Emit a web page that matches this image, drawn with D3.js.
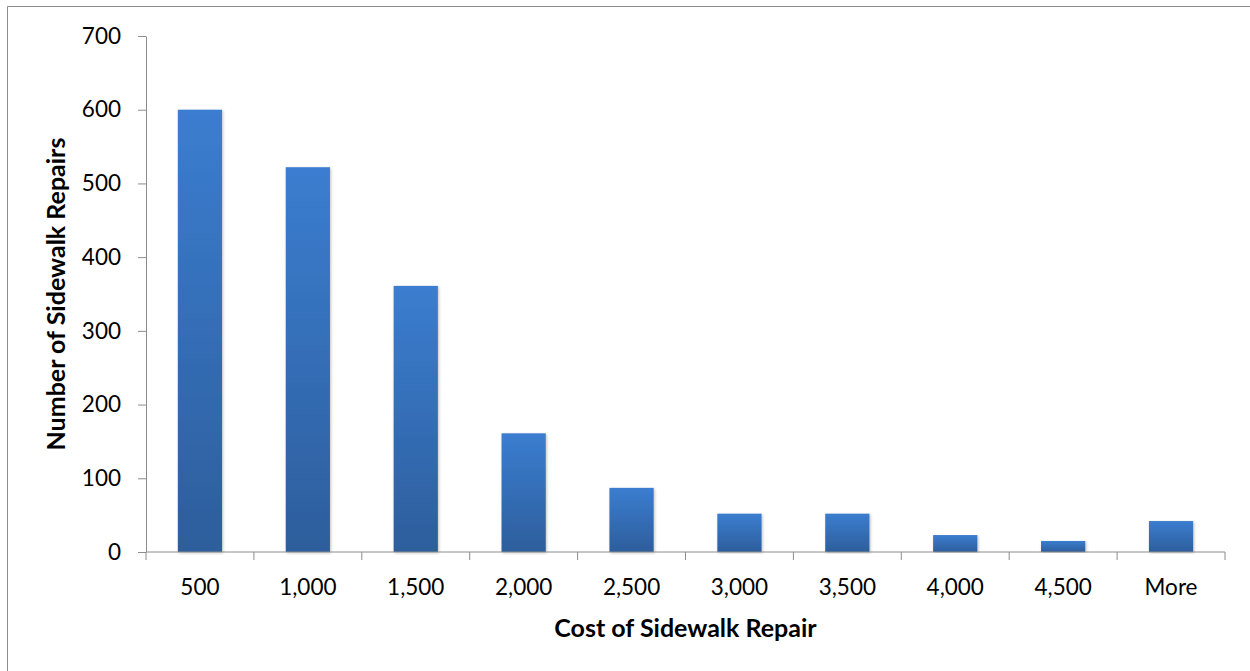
<!DOCTYPE html>
<html><head><meta charset="utf-8">
<script src="https://cdn.jsdelivr.net/npm/d3@7"></script>
<style>html,body{margin:0;padding:0;background:#fff;}svg{display:block;}</style>
</head><body>
<script>
const categories = ["500","1,000","1,500","2,000","2,500","3,000","3,500","4,000","4,500","More"];
const counts = [600, 522, 361, 161, 87, 52, 52, 23, 15, 42];
const yTicks = [0,100,200,300,400,500,600,700];

const W = 1250, H = 671;
const m = {left:146, right:25, top:36, bottom:119};
const svg = d3.select("body").append("svg").attr("width", W).attr("height", H);
const font = "Lato, 'Open Sans', sans-serif";

svg.append("path").attr("d", `M7.5,${H} V6.5 H${W}`).attr("fill","none").attr("stroke","#8c8c8c").attr("stroke-width",1);

const defs = svg.append("defs");
const g1 = defs.append("linearGradient").attr("id","barg").attr("x1",0).attr("y1",0).attr("x2",0).attr("y2",1);
g1.append("stop").attr("offset","0%").attr("stop-color","#3b7dd0");
g1.append("stop").attr("offset","100%").attr("stop-color","#2d5e9c");
const f = defs.append("filter").attr("id","sh").attr("x","-20%").attr("y","-5%").attr("width","140%").attr("height","110%");
f.append("feGaussianBlur").attr("in","SourceAlpha").attr("stdDeviation",1.5).attr("result","b");
f.append("feOffset").attr("in","b").attr("dx",1).attr("dy",1).attr("result","o");
f.append("feComponentTransfer").attr("in","o").attr("result","o2").append("feFuncA").attr("type","linear").attr("slope",0.25);
const fm = f.append("feMerge"); fm.append("feMergeNode").attr("in","o2"); fm.append("feMergeNode").attr("in","SourceGraphic");

const x = d3.scaleBand().domain(categories).range([m.left, W - m.right]).paddingInner(0.59).paddingOuter(0.295);
const y = d3.scaleLinear().domain([0,700]).range([H - m.bottom, m.top]);

svg.append("g").selectAll("rect").data(counts).join("rect")
  .attr("x",(d,i)=>x(categories[i])).attr("width",x.bandwidth())
  .attr("y",d=>y(d)).attr("height",d=>y(0)-y(d))
  .attr("fill","url(#barg)").attr("filter","url(#sh)");

const yAxis = svg.append("g").attr("transform",`translate(${m.left},0)`)
  .call(d3.axisLeft(y).tickValues(yTicks).tickSize(8).tickSizeOuter(0).tickPadding(17));
yAxis.select(".domain").attr("stroke","#8c8c8c");
yAxis.selectAll(".tick line").attr("stroke","#8c8c8c");
yAxis.selectAll("text").attr("font-family",font).attr("font-size",22.5).attr("fill","#000");

const step = x.step();
const xAxisG = svg.append("g").attr("transform",`translate(0,${y(0)})`);
xAxisG.append("line").attr("x1",m.left).attr("x2",x.range()[1]).attr("stroke","#8c8c8c");
const tickPos = d3.range(categories.length+1).map(i => m.left + i*step);
xAxisG.selectAll("line.t").data(tickPos).join("line").attr("class","t")
  .attr("x1",d=>d).attr("x2",d=>d).attr("y1",0).attr("y2",8).attr("stroke","#8c8c8c");
xAxisG.selectAll("text").data(categories).join("text")
  .attr("x",d=>x(d)+x.bandwidth()/2).attr("y",43).attr("text-anchor","middle")
  .attr("font-family",font).attr("font-size",22.5).attr("fill","#000").text(d=>d);

svg.append("text").attr("x",(m.left + x.range()[1])/2).attr("y",637).attr("text-anchor","middle")
  .attr("font-family",font).attr("font-size",25).attr("font-weight","bold").text("Cost of Sidewalk Repair");
svg.append("text").attr("transform",`translate(65,${(y(0)+y(700))/2}) rotate(-90)`).attr("text-anchor","middle")
  .attr("font-family",font).attr("font-size",25).attr("font-weight","bold").text("Number of Sidewalk Repairs");
</script>
</body></html>
